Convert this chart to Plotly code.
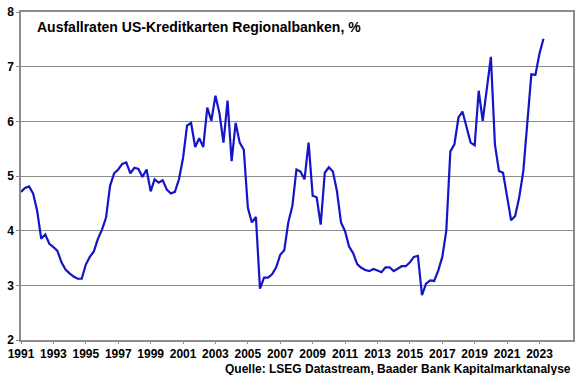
import plotly.graph_objects as go
import pandas as pd

start_quarter = "1991-01-01"
rates = [
    4.71, 4.78, 4.81, 4.68, 4.36, 3.85, 3.93, 3.76, 3.70, 3.63,
    3.42, 3.29, 3.22, 3.16, 3.12, 3.12, 3.38, 3.52, 3.62, 3.85,
    4.02, 4.24, 4.82, 5.05, 5.12, 5.22, 5.25, 5.05, 5.15, 5.13,
    4.98, 5.12, 4.72, 4.94, 4.88, 4.92, 4.75, 4.68, 4.71, 4.94,
    5.33, 5.92, 5.97, 5.53, 5.69, 5.53, 6.25, 6.01, 6.47, 6.15,
    5.61, 6.38, 5.27, 5.97, 5.61, 5.48, 4.42, 4.15, 4.25, 2.94,
    3.14, 3.14, 3.20, 3.33, 3.56, 3.64, 4.15, 4.45, 5.12, 5.08,
    4.94, 5.61, 4.64, 4.61, 4.11, 5.06, 5.16, 5.08, 4.73, 4.15,
    3.99, 3.71, 3.59, 3.39, 3.32, 3.28, 3.26, 3.30, 3.27, 3.24,
    3.33, 3.33, 3.26, 3.30, 3.35, 3.35, 3.42, 3.52, 3.54, 2.82,
    3.03, 3.09, 3.08, 3.27, 3.52, 4.00, 5.45, 5.58, 6.07, 6.18,
    5.91, 5.61, 5.56, 6.56, 6.01, 6.61, 7.18, 5.58, 5.09, 5.06,
    4.61, 4.19, 4.27, 4.61, 5.09, 6.00, 6.86, 6.85, 7.24, 7.51,
]
dates = pd.date_range(start_quarter, periods=len(rates), freq="QS")

tick_years = list(range(1991, 2024, 2))
tick_vals = [f"{y}-01-01" for y in tick_years]
tick_text = [str(y) for y in tick_years]
y_ticks = [2, 3, 4, 5, 6, 7, 8]

title_text = "Ausfallraten US-Kreditkarten Regionalbanken, %"
source_text = "Quelle: LSEG Datastream, Baader Bank Kapitalmarktanalyse"

fig = go.Figure()
fig.add_trace(go.Scatter(
    x=dates, y=rates, mode="lines",
    line=dict(color="#1414C8", width=2.2),
    hoverinfo="skip", showlegend=False,
))

fnt = dict(family="Liberation Sans, Arial, sans-serif", size=12, color="#000000", weight="bold")

fig.update_layout(
    width=580, height=375,
    margin=dict(l=21, r=7, t=12, b=35, autoexpand=False),
    paper_bgcolor="white", plot_bgcolor="white",
    font=fnt,
    xaxis=dict(
        type="date",
        range=["1991-01-01", "2025-01-25"],
        tickvals=tick_vals, ticktext=tick_text,
        tickfont=fnt,
        showgrid=False,
        showline=True, linecolor="#8c8c8c", linewidth=1.5,
        mirror=True, automargin=False,
        ticks="outside", ticklen=2, tickcolor="#8c8c8c",
        zeroline=False,
    ),
    yaxis=dict(
        range=[2, 8],
        tickvals=y_ticks,
        tickfont=fnt,
        showgrid=True, gridcolor="#8c8c8c", gridwidth=1,
        showline=True, linecolor="#8c8c8c", linewidth=1.5,
        mirror=True, automargin=False,
        ticks="outside", ticklen=3, tickcolor="#8c8c8c",
        zeroline=False,
    ),
    annotations=[
        dict(text=title_text, xref="paper", yref="paper", x=0.025, y=0.955,
             xanchor="left", yanchor="middle", showarrow=False,
             font=dict(family="Liberation Sans, Arial, sans-serif", size=14, color="#000000", weight="bold")),
        dict(text=source_text, xref="paper", yref="paper", x=1.0, y=-0.087,
             xanchor="right", yanchor="middle", showarrow=False,
             font=fnt),
    ],
)

fig.write_html(
    "out.html",
    config={"displayModeBar": False},
    post_script="document.body.style.margin='0px';document.body.style.overflow='hidden';",
)
